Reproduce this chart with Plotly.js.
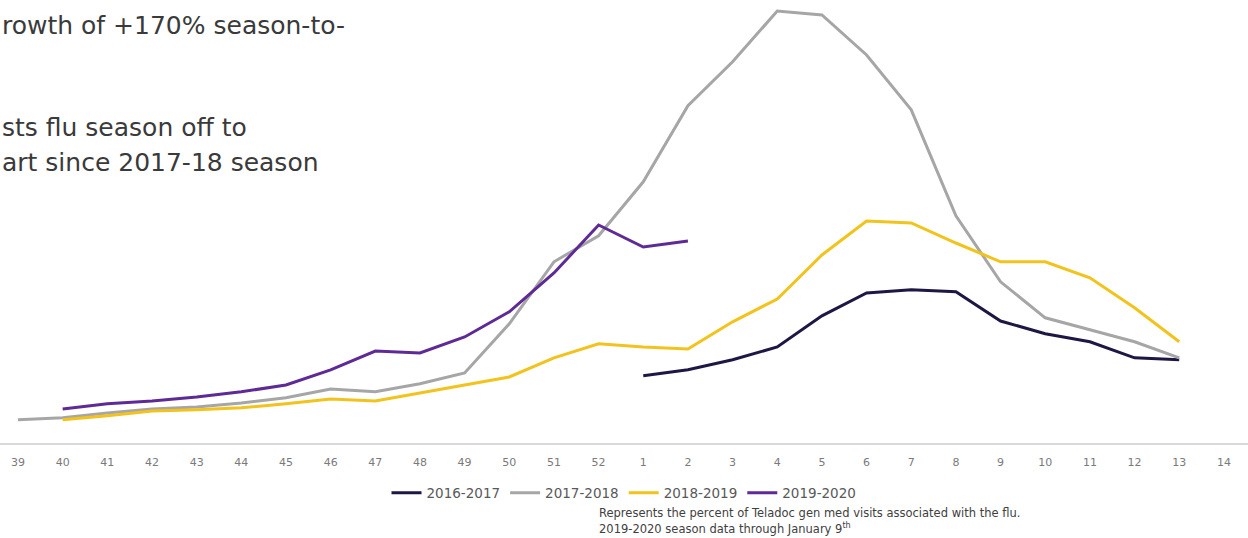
<!DOCTYPE html>
<html>
<head>
<meta charset="utf-8">
<script src="https://cdn.plot.ly/plotly-3.0.1.min.js"></script>
<style>
  html, body { margin: 0; padding: 0; background: #fff; }
  #chart { width: 1248px; height: 538px; }
</style>
</head>
<body>
<div id="chart"></div>
<script>
// Week-of-season categories (flu season weeks)
const weeks = ["39","40","41","42","43","44","45","46","47","48","49","50","51","52",
               "1","2","3","4","5","6","7","8","9","10","11","12","13","14"];

// Percent of gen med visits associated with flu (relative values)
const weeks1617 = ["1","2","3","4","5","6","7","8","9","10","11","12","13"];
const s1617 = [1.68, 1.83, 2.08, 2.40, 3.18, 3.75, 3.83, 3.78, 3.05, 2.73, 2.53, 2.13, 2.08];

const weeks1718 = ["39","40","41","42","43","44","45","46","47","48","49","50","51","52",
                   "1","2","3","4","5","6","7","8","9","10","11","12","13"];
const s1718 = [0.58, 0.63, 0.75, 0.85, 0.90, 1.00, 1.13, 1.35, 1.28, 1.48, 1.75, 2.98, 4.53, 5.18,
               6.53, 8.43, 9.53, 10.80, 10.70, 9.70, 8.33, 5.68, 4.03, 3.13, 2.83, 2.53, 2.13];

const weeks1819 = ["40","41","42","43","44","45","46","47","48","49","50","51","52",
                   "1","2","3","4","5","6","7","8","9","10","11","12","13"];
const s1819 = [0.58, 0.68, 0.80, 0.83, 0.88, 0.98, 1.10, 1.05, 1.25, 1.45, 1.65, 2.13, 2.48,
               2.40, 2.35, 3.03, 3.60, 4.70, 5.55, 5.50, 5.00, 4.53, 4.53, 4.13, 3.38, 2.53];

const weeks1920 = ["40","41","42","43","44","45","46","47","48","49","50","51","52","1","2"];
const s1920 = [0.85, 0.98, 1.05, 1.15, 1.28, 1.45, 1.83, 2.30, 2.25, 2.65, 3.28, 4.25, 5.45, 4.90, 5.05];

const seriesNames = ["2016-2017", "2017-2018", "2018-2019", "2019-2020"];
const seriesColors = ["#1e1744", "#a6a6a6", "#f2c31c", "#5e2a96"];

const headline = ["rowth of +170% season-to-", "sts flu season off to", "art since 2017-18 season"];
const footnoteLine1 = "Represents the percent of Teladoc gen med visits associated with the flu.";
const footnoteLine2 = "2019-2020 season data through January 9<sup>th</sup>";

const xs = [weeks1617, weeks1718, weeks1819, weeks1920];
const ys = [s1617, s1718, s1819, s1920];

const traces = seriesNames.map((n, i) => ({
  type: "scatter",
  mode: "lines",
  name: n,
  x: xs[i],
  y: ys[i],
  line: { color: seriesColors[i], width: 3 },
  hoverinfo: "skip"
}));

const font = "'DejaVu Sans', 'Liberation Sans', sans-serif";

const layout = {
  width: 1248,
  height: 538,
  margin: { l: 0, r: 0, t: 0, b: 95 },
  paper_bgcolor: "#ffffff",
  plot_bgcolor: "#ffffff",
  showlegend: true,
  xaxis: {
    type: "category",
    categoryorder: "array",
    categoryarray: weeks,
    range: [-0.403, 27.54],
    showgrid: false,
    zeroline: false,
    showline: true,
    linecolor: "#d9d9d9",
    linewidth: 2,
    ticks: "",
    ticklabelstandoff: 8,
    tickfont: { family: font, size: 11, color: "#7a7a7a" },
    fixedrange: true
  },
  yaxis: {
    range: [0, 11.075],
    showgrid: false,
    zeroline: false,
    showline: false,
    showticklabels: false,
    ticks: "",
    fixedrange: true
  },
  legend: {
    orientation: "h",
    x: 0.5,
    xanchor: "center",
    y: -0.113,
    yanchor: "middle",
    font: { family: font, size: 13.5, color: "#595959" },
    itemwidth: 30,
    tracegroupgap: 0,
    bgcolor: "rgba(0,0,0,0)"
  },
  annotations: [
    { text: headline[0], xref: "paper", yref: "paper", x: 0, xanchor: "left",
      y: 1 - 25 / 443, yanchor: "middle", showarrow: false,
      font: { family: font, size: 25, color: "#3a3a3a" } },
    { text: headline[1], xref: "paper", yref: "paper", x: 0, xanchor: "left",
      y: 1 - 128 / 443, yanchor: "middle", showarrow: false,
      font: { family: font, size: 25, color: "#3a3a3a" } },
    { text: headline[2], xref: "paper", yref: "paper", x: 0, xanchor: "left",
      y: 1 - 162 / 443, yanchor: "middle", showarrow: false,
      font: { family: font, size: 25, color: "#3a3a3a" } },
    { text: footnoteLine1, xref: "paper", yref: "paper", x: 597 / 1248, xanchor: "left",
      y: 1 - 513 / 443, yanchor: "middle", align: "left", showarrow: false,
      font: { family: font, size: 11.5, color: "#404040" } },
    { text: footnoteLine2, xref: "paper", yref: "paper", x: 597 / 1248, xanchor: "left",
      y: 1 - 528 / 443, yanchor: "middle", align: "left", showarrow: false,
      font: { family: font, size: 11.5, color: "#404040" } }
  ]
};

Plotly.newPlot("chart", traces, layout, { displayModeBar: false, staticPlot: true });
</script>
</body>
</html>
